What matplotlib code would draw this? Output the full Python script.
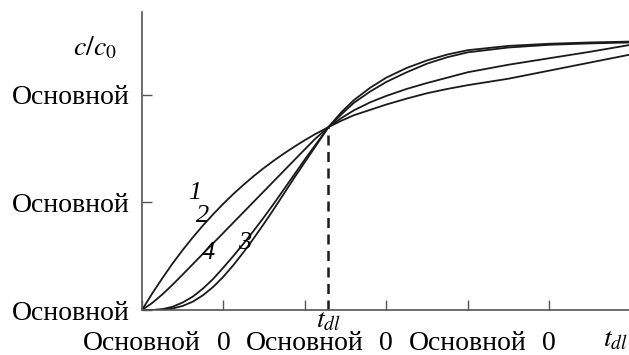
import matplotlib
matplotlib.use("Agg")
import matplotlib.pyplot as plt
from matplotlib.transforms import blended_transform_factory

# ---- data ----
t = [0, 0.125, 0.25, 0.375, 0.5, 0.625, 0.75, 0.875, 1.0, 1.125, 1.25, 1.375, 1.5,
     1.625, 1.75, 1.875, 2.0, 2.125, 2.29, 2.45, 2.6, 2.8, 3.0, 3.25, 3.5, 3.75,
     4.0, 4.5, 5.0, 5.5, 6.0]
curve1 = [0, 0.153, 0.296, 0.432, 0.558, 0.676, 0.787, 0.891, 0.989, 1.081, 1.166,
          1.247, 1.322, 1.392, 1.458, 1.520, 1.579, 1.634, 1.700, 1.760, 1.810, 1.860,
          1.910, 1.965, 2.015, 2.055, 2.090, 2.150, 2.225, 2.300, 2.375]
curve2 = [0, 0.065, 0.145, 0.235, 0.330, 0.427, 0.524, 0.621, 0.718, 0.815, 0.912,
          1.009, 1.106, 1.203, 1.300, 1.397, 1.494, 1.590, 1.700, 1.785, 1.855, 1.930,
          1.990, 2.055, 2.110, 2.160, 2.210, 2.280, 2.340, 2.400, 2.465]
curve4 = [0, 0.0, 0.008, 0.030, 0.070, 0.125, 0.200, 0.290, 0.395, 0.505, 0.620,
          0.740, 0.865, 0.995, 1.130, 1.265, 1.400, 1.530, 1.700, 1.840, 1.950, 2.065,
          2.160, 2.250, 2.320, 2.375, 2.415, 2.455, 2.475, 2.487, 2.495]
curve3 = [0, 0.0, 0.003, 0.014, 0.038, 0.078, 0.138, 0.215, 0.310, 0.420, 0.540,
          0.670, 0.805, 0.945, 1.090, 1.235, 1.375, 1.515, 1.700, 1.820, 1.925, 2.030,
          2.120, 2.210, 2.290, 2.350, 2.395, 2.440, 2.465, 2.478, 2.487]
t_dl = 2.29
c_dl = 1.70
yticks = [0, 1, 2]
ytick_labels = ["Основной", "Основной", "Основной"]
xticks = [0, 1, 2, 3, 4, 5]
xtick_labels = ["Основной", "0", "Основной", "0", "Основной", "0"]
curve_labels = ["1", "2", "4", "3"]
label_pos = [(0.65, 1.09), (0.74, 0.87), (0.82, 0.53), (1.26, 0.62)]

plt.rcParams["font.family"] = ["Liberation Serif", "DejaVu Serif"]
plt.rcParams["mathtext.fontset"] = "stix"

fig = plt.figure(figsize=(6.29, 3.55), dpi=100)
ax = fig.add_axes([142 / 629, 45 / 355, 1 - 142 / 629, 298 / 355])

for y in (curve1, curve2, curve3, curve4):
    ax.plot(t, y, color="#1a1a1a", lw=1.3, solid_capstyle="round",
            solid_joinstyle="round")

ax.plot([t_dl, t_dl], [0, c_dl], color="#1a1a1a", lw=1.8, linestyle=(0, (4, 2.6)))

ax.set_xlim(0, 5.98)
ax.set_ylim(0, 2.77)

for side in ("top", "right"):
    ax.spines[side].set_visible(False)
for side in ("left", "bottom"):
    ax.spines[side].set_color("#555555")
    ax.spines[side].set_linewidth(1.2)

ax.set_yticks(yticks)
ax.set_yticklabels(ytick_labels, fontsize=20)
ax.set_xticks(xticks)
ax.set_xticklabels(xtick_labels, fontsize=20)
ax.tick_params(axis="both", direction="in", length=7, width=1.0, color="#555555")
ax.tick_params(axis="y", pad=9)
ax.tick_params(axis="x", pad=15)

for lab, (x, y) in zip(curve_labels, label_pos):
    ax.text(x, y, lab, fontsize=19, style="italic", ha="center", va="center")

tr = blended_transform_factory(ax.transData, ax.transAxes)
ax.text(t_dl, -0.035, r"$t_{dl}$", transform=tr, fontsize=20, ha="center", va="center")
fig.text(615 / 629, 1 - 340 / 355, r"$t_{dl}$", fontsize=20, ha="center", va="center")
fig.text(95 / 629, 1 - 48 / 355, r"$c/c_0$", fontsize=20, ha="center", va="center")

fig.savefig("out.png", dpi=100)
